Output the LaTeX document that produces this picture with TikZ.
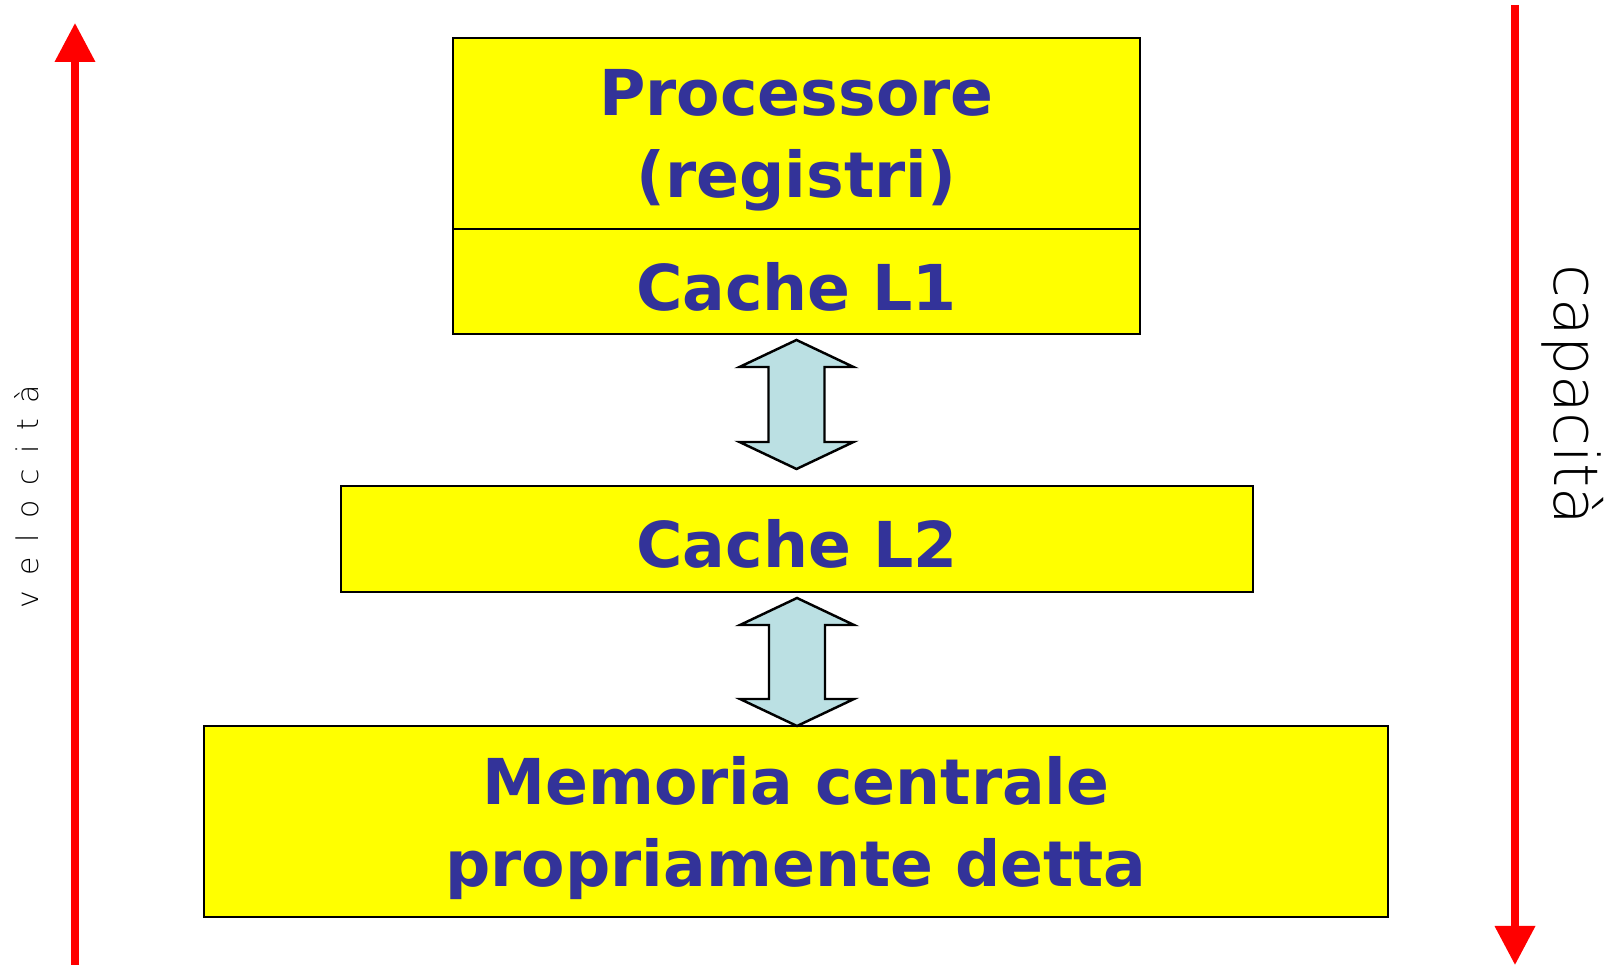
\documentclass[tikz,border=0pt]{standalone}
\usepackage{fontspec}
\setmainfont{DejaVu Sans}
\newfontfamily\thinfont{DejaVu Sans ExtraLight}
\newfontfamily\spacedthin{DejaVu Sans ExtraLight}[WordSpace=1.6]
\usetikzlibrary{arrows.meta,calc}
\definecolor{levelyellow}{HTML}{FFFF00}
\definecolor{leveltext}{HTML}{333399}
\definecolor{transferfill}{HTML}{BBE0E3}
\tikzset{
  level/.style={draw,line width=0.7pt,fill=levelyellow,text=leveltext,
    font=\bfseries\fontsize{18}{23.3}\selectfont,align=center,inner sep=0pt,outer sep=0pt,
    text depth=0pt,execute at begin node={\rule{0pt}{16.5pt}}},
  axis/.style={red,line width=2pt,-{Triangle[length=0.39cm,width=0.39cm]}},
  transfer/.style={draw,line width=0.7pt,fill=transferfill,line join=miter}
}
% block arrow with a head at both ends
\newcommand{\updown}[2]{%
  \draw [transfer] let \p1=(#1), \p2=(#2) in
    (\x1,\y1) -- (\x1+0.57cm,\y1-0.27cm) -- (\x1+0.28cm,\y1-0.27cm)
    -- (\x1+0.28cm,\y2+0.27cm) -- (\x1+0.57cm,\y2+0.27cm) -- (\x1,\y2)
    -- (\x1-0.57cm,\y2+0.27cm) -- (\x1-0.28cm,\y2+0.27cm)
    -- (\x1-0.28cm,\y1-0.27cm) -- (\x1-0.57cm,\y1-0.27cm) -- cycle;}
\begin{document}
\begin{tikzpicture}
\useasboundingbox (0,0) rectangle (16.1,9.67);
\node [level,minimum width=6.87cm,minimum height=1.91cm](Proc) at (7.965,8.335){Processore\\(registri)};
\node [level,minimum width=6.87cm,minimum height=1.05cm,anchor=north](L1) at (Proc.south){Cache L1};
\node [level,minimum width=9.12cm,minimum height=1.06cm](L2) at (7.97,4.28){Cache L2};
\node [level,minimum width=11.84cm,minimum height=1.91cm](Mem) at (7.96,1.455){Memoria centrale\\propriamente detta};
\coordinate (T1top) at ($(L1.south)+(0,-0.06)$);
\coordinate (T1bot) at ($(L2.north)+(0,0.17)$);
\updown{T1top}{T1bot}
\coordinate (T2top) at ($(L2.south)+(0,-0.06)$);
\coordinate (T2bot) at (Mem.north);
\updown{T2top}{T2bot}
\coordinate (Vlow) at (0.75,0.02);
\coordinate (Vhigh) at (0.75,9.44);
\draw [axis](Vlow) -- (Vhigh);
\coordinate (Chigh) at (15.15,9.62);
\coordinate (Clow) at (15.15,0.02);
\draw [axis](Chigh) -- (Clow);
\node [rotate=90,font=\spacedthin\fontsize{8.5}{10}\selectfont](Vel) at (0.27,4.70){v e l o c i t à};
\node [rotate=-90,font=\thinfont\fontsize{17.5}{20}\selectfont](Cap) at (15.73,5.72){capacità};
\end{tikzpicture}
\end{document}
